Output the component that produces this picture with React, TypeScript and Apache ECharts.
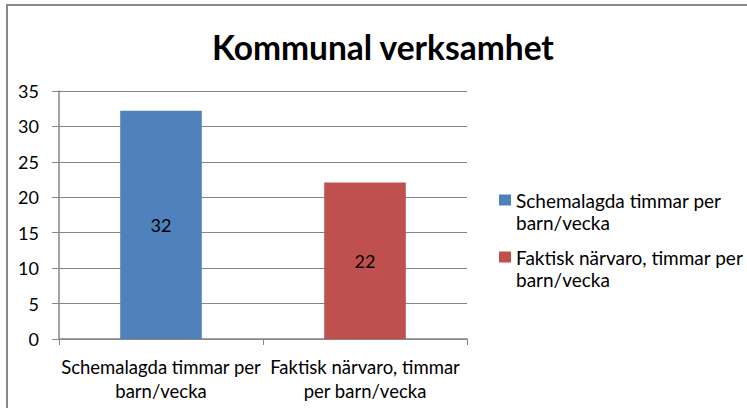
import React, { useEffect, useRef } from "react";
import * as echarts from "echarts";

const titleText = "Kommunal verksamhet";
const categories = ["Schemalagda timmar per barn/vecka", "Faktisk närvaro, timmar per barn/vecka"];
const categoryLabels = ["Schemalagda timmar per\nbarn/vecka", "Faktisk närvaro, timmar\nper barn/vecka"];
const seriesNames = ["Schemalagda timmar per barn/vecka", "Faktisk närvaro, timmar per barn/vecka"];
const legendLabels = ["Schemalagda timmar per\nbarn/vecka", "Faktisk närvaro, timmar per\nbarn/vecka"];
const scheduledValues = [32.2, "-"];
const actualValues = ["-", 22.1];
const seriesColors = ["#4F81BD", "#C0504D"];
const yMin = 0;
const yMax = 35;
const yInterval = 5;

const FONT = "Lato";

export default function App() {
  const ref = useRef<HTMLDivElement>(null);
  useEffect(() => {
    if (!ref.current) return;
    const chart = echarts.init(ref.current, undefined, { renderer: "svg" });
    const labelCfg = {
      show: true,
      position: "inside",
      color: "#000",
      fontFamily: FONT,
      fontSize: 18,
      formatter: (p: any) => String(Math.round(p.value)),
    };
    chart.setOption({
      animation: false,
      backgroundColor: "#fff",
      textStyle: { fontFamily: FONT },
      title: {
        text: titleText,
        left: 207,
        top: 25,
        textStyle: { fontFamily: FONT, fontWeight: "bold", fontSize: 33.5, color: "#000" },
      },
      graphic: [
        {
          type: "rect",
          shape: { x: 7, y: 5, width: 800, height: 500 },
          style: { fill: "none", stroke: "#898989", lineWidth: 2 },
          silent: true,
        },
      ],
      legend: {
        orient: "vertical",
        left: 494,
        top: 162,
        itemWidth: 12,
        itemHeight: 11,
        itemGap: -9,
        icon: "rect",
        data: seriesNames,
        formatter: (name: string) => "\n" + legendLabels[seriesNames.indexOf(name)],
        textStyle: {
          fontFamily: FONT,
          fontSize: 19,
          color: "#000",
          lineHeight: 22,
        },
      },
      grid: { left: 59, right: 280, top: 91, bottom: 69, containLabel: false },
      xAxis: {
        type: "category",
        data: categories,
        axisLine: { lineStyle: { color: "#868686", width: 1.5 } },
        axisTick: { show: true, length: 6, lineStyle: { color: "#868686" } },
        axisLabel: {
          color: "#000",
          fontFamily: FONT,
          fontSize: 18.5,
          lineHeight: 24,
          margin: 16,
          interval: 0,
          formatter: (v: string) => categoryLabels[categories.indexOf(v)],
        },
      },
      yAxis: {
        type: "value",
        min: yMin,
        max: yMax,
        interval: yInterval,
        axisLine: { show: true, lineStyle: { color: "#868686", width: 1.5 } },
        axisTick: { show: true, length: 7, lineStyle: { color: "#868686" } },
        axisLabel: { color: "#000", fontFamily: FONT, fontSize: 18, margin: 20 },
        splitLine: { show: true, lineStyle: { color: "#868686", width: 1 } },
      },
      series: [
        {
          name: seriesNames[0],
          type: "bar",
          stack: "total",
          barWidth: "40%",
          data: scheduledValues,
          itemStyle: { color: seriesColors[0] },
          label: labelCfg,
        },
        {
          name: seriesNames[1],
          type: "bar",
          stack: "total",
          barWidth: "40%",
          data: actualValues,
          itemStyle: { color: seriesColors[1] },
          label: labelCfg,
        },
      ],
    });
    return () => chart.dispose();
  }, []);
  return (
    <div
      ref={ref}
      style={{ position: "fixed", left: 0, top: 0, width: 747, height: 408 }}
    />
  );
}
